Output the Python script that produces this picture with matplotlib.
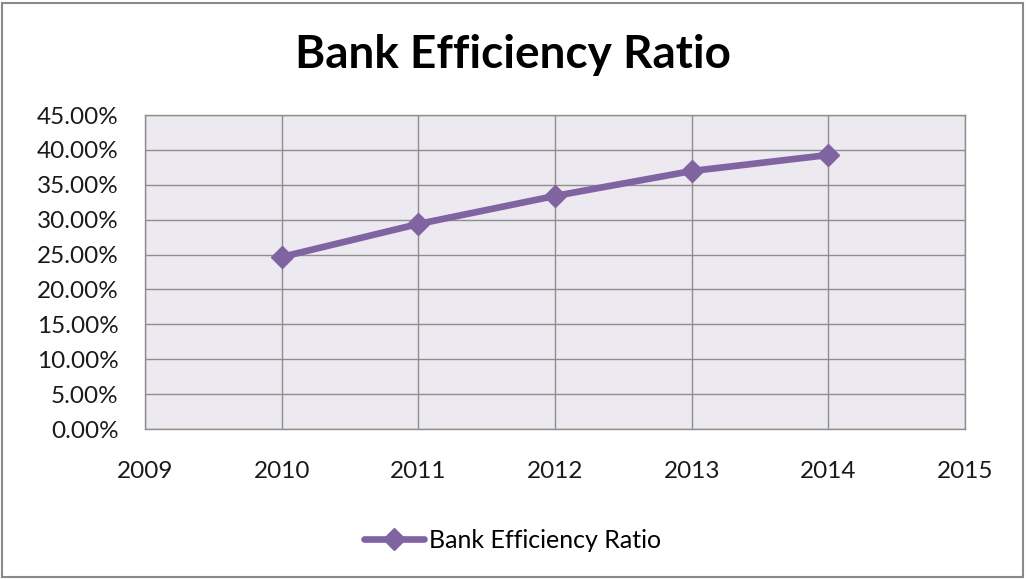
import matplotlib
matplotlib.use("Agg")
from matplotlib import pyplot as plt
from matplotlib.patches import Rectangle
from matplotlib.ticker import FuncFormatter, MultipleLocator

# data
years = [2010, 2011, 2012, 2013, 2014]
efficiency = [0.2465, 0.2938, 0.3340, 0.3697, 0.3927]
series_name = "Bank Efficiency Ratio"

plt.rcParams['font.family'] = ['Lato', 'DejaVu Sans']

purple = '#8064A2'
grid_col = '#8E8E8E'

fig = plt.figure(figsize=(10.26, 5.79), dpi=100)
ax = fig.add_axes([145 / 1026, 150 / 579, 820 / 1026, 314 / 579])
ax.set_facecolor('#ECEAF0')

ax.plot(years, efficiency, color=purple, linewidth=4.8, marker='D',
        markersize=11, label=series_name, solid_capstyle='round')

ax.set_xlim(2009, 2015)
ax.set_ylim(0, 0.45)
ax.xaxis.set_major_locator(MultipleLocator(1))
ax.yaxis.set_major_locator(MultipleLocator(0.05))
ax.yaxis.set_major_formatter(FuncFormatter(lambda v, p: f"{v * 100:.2f}%"))
ax.grid(True, color=grid_col, linewidth=1.0)
ax.set_axisbelow(True)
for s in ax.spines.values():
    s.set_color(grid_col)
    s.set_linewidth(1.0)
ax.tick_params(axis='both', length=0, labelsize=17.5, colors='#1a1a1a')
ax.tick_params(axis='x', pad=23)
ax.tick_params(axis='y', pad=19)

fig.text(0.5, 1 - 55 / 579, "Bank Efficiency Ratio", ha='center', va='center',
         fontsize=33, fontweight='bold', color='black')

fig.legend(loc='center', bbox_to_anchor=(0.5, 1 - 540 / 579), frameon=False,
           fontsize=18, handlelength=2.4, handletextpad=0.2)

# thin border around the whole chart
fig.patches.append(Rectangle((2 / 1026, 2 / 579), 1021 / 1026, 574 / 579,
                             transform=fig.transFigure, fill=False,
                             edgecolor='#8a8a8a', linewidth=1.5))

fig.savefig("out.png", dpi=100, facecolor='white')
